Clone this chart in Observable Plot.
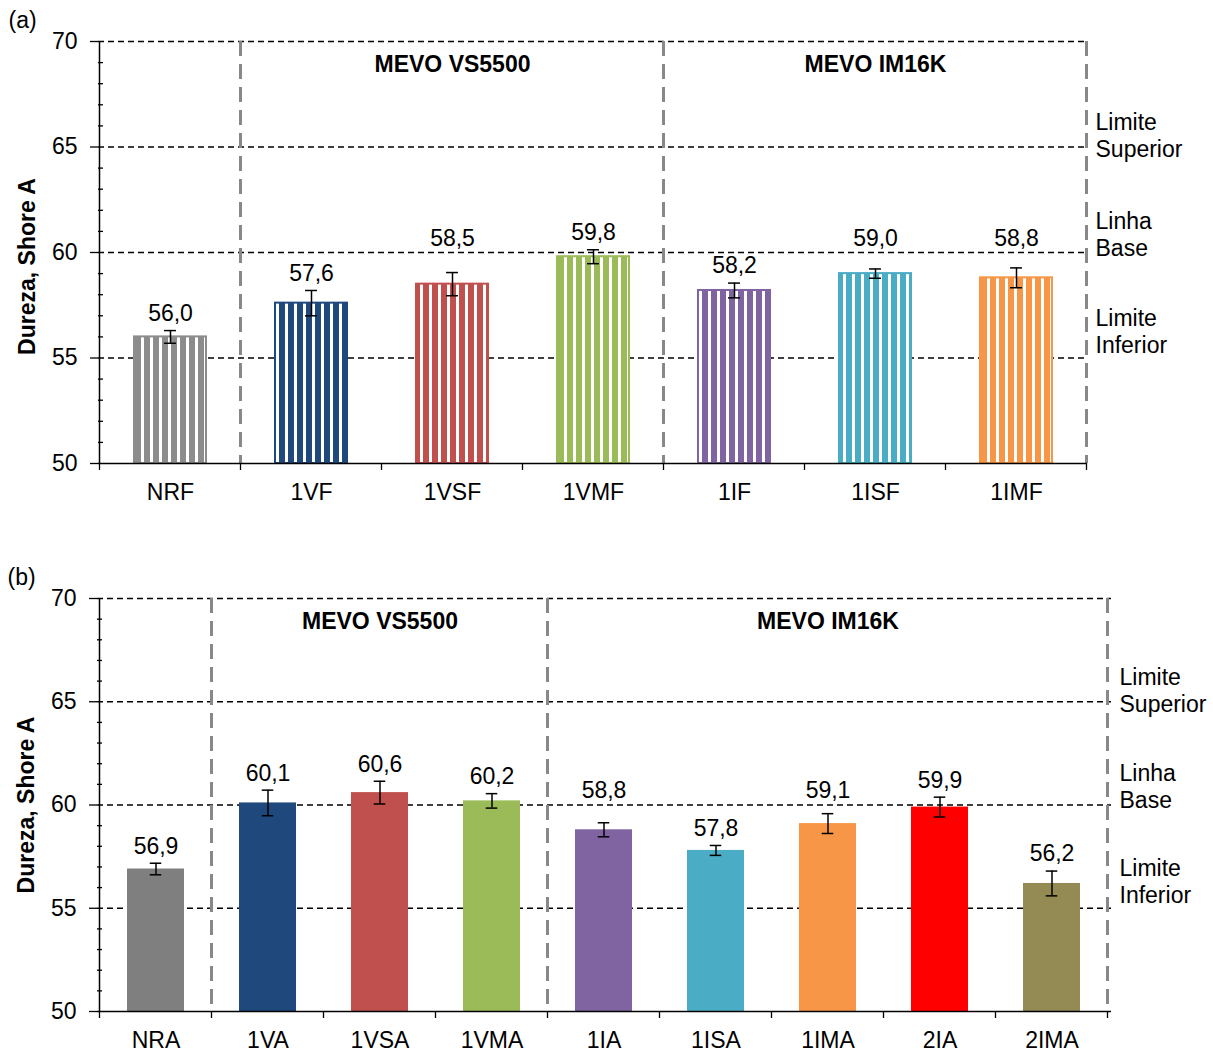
<!DOCTYPE html>
<html>
<head>
<meta charset="utf-8">
<script src="https://cdn.jsdelivr.net/npm/d3@7"></script>
<script src="https://cdn.jsdelivr.net/npm/@observablehq/plot@0.6"></script>
<style>
  html, body { margin: 0; padding: 0; background: #fff; overflow: hidden; }
  #wrap { position: relative; width: 1213px; height: 1052px; font-family: "Liberation Sans", Arial, sans-serif; }
  #wrap svg { position: absolute; left: 0; }
</style>
</head>
<body>
<div id="wrap"></div>
<script>
// Panel (a): hardness of the fibre-based compounds
const catsA = ["NRF", "1VF", "1VSF", "1VMF", "1IF", "1ISF", "1IMF"];
const valuesA = [56.0, 57.6, 58.5, 59.8, 58.2, 59.0, 58.8];
const errorsA = [0.3, 0.6, 0.55, 0.33, 0.35, 0.22, 0.47];
const colorsA = ["#8c8c8c", "#1f497d", "#c0504d", "#9bbb59", "#8064a2", "#4bacc6", "#f79646"];
const groupsA = [
  {name: "MEVO VS5500", members: ["1VF", "1VSF", "1VMF"]},
  {name: "MEVO IM16K", members: ["1IF", "1ISF", "1IMF"]}
];

// Panel (b): hardness of the compounds with additive
const catsB = ["NRA", "1VA", "1VSA", "1VMA", "1IA", "1ISA", "1IMA", "2IA", "2IMA"];
const valuesB = [56.9, 60.1, 60.6, 60.2, 58.8, 57.8, 59.1, 59.9, 56.2];
const errorsB = [0.28, 0.62, 0.55, 0.35, 0.34, 0.24, 0.48, 0.48, 0.6];
const colorsB = ["#7f7f7f", "#1f497d", "#c0504d", "#9bbb59", "#8064a2", "#4bacc6", "#f79646", "#ff0000", "#948a54"];
const groupsB = [
  {name: "MEVO VS5500", members: ["1VA", "1VSA", "1VMA"]},
  {name: "MEVO IM16K", members: ["1IA", "1ISA", "1IMA", "2IA", "2IMA"]}
];

// Shared axis values and reference limits
const yDomain = [50, 70];
const yTicks = [50, 55, 60, 65, 70];
const yMinor = [51, 52, 53, 54, 56, 57, 58, 59, 61, 62, 63, 64, 66, 67, 68, 69];
const refLines = [55, 60, 65, 70];
const limits = [
  {label: "Limite\nSuperior", value: 65},
  {label: "Linha\nBase", value: 60},
  {label: "Limite\nInferior", value: 55}
];
const yLabel = "Dureza, Shore A";

// Layout and style constants
const WIDTH = 1213;
const PAD = 0.49;
const CAP = 12;
const FS = 23;
const FONT = "Liberation Sans, Arial, sans-serif";
const LIMIT_DY = [-12, -19, -27];   // vertical nudge of each limit caption above its line
const LABEL_REACH = 1.3;            // y-extent (in scale units) a value label occupies above its error bar

const fmt = v => v.toFixed(1).replace(".", ",");

// Vertical-stripe fills, one pattern per bar colour
function stripeDefs(id, colors) {
  return () => {
    const defs = d3.create("svg:defs");
    colors.forEach((c, i) => {
      const p = defs.append("pattern")
        .attr("id", `${id}-${i}`)
        .attr("patternUnits", "userSpaceOnUse")
        .attr("width", 9).attr("height", 9);
      p.append("rect").attr("width", 9).attr("height", 9).attr("fill", "#fff");
      p.append("rect").attr("width", 6).attr("height", 9).attr("fill", c);
    });
    return defs.node();
  };
}

// Category boundary ticks, the y-axis line and the grey group separators
function edgeMark(cats, groups) {
  return (index, scales, values, dimensions) => {
    const {x, y} = scales;
    let edges;
    if (typeof x.bandwidth === "function") {
      const bw = x.bandwidth(), st = x.step();
      const half = (st - bw) / 2;
      edges = cats.map(c => x(c) - half);
      edges.push(x(cats[cats.length - 1]) + bw + half);
    } else {
      const {width, marginLeft, marginRight} = dimensions;
      const st = (width - marginLeft - marginRight) / cats.length;
      edges = d3.range(cats.length + 1).map(i => marginLeft + i * st);
    }
    const last = edges[edges.length - 1];
    const yb = y(yDomain[0]), yt = y(yDomain[1]);
    const g = d3.create("svg:g");
    const seps = groups.map(gr => edges[cats.indexOf(gr.members[0])]).concat([last]);
    g.append("g").selectAll("line").data(seps).join("line")
      .attr("x1", d => d).attr("x2", d => d)
      .attr("y1", yt).attr("y2", yb)
      .attr("stroke", "#888888").attr("stroke-width", 3)
      .attr("stroke-dasharray", "15,8");
    g.append("g").selectAll("line").data(edges).join("line")
      .attr("x1", d => d).attr("x2", d => d)
      .attr("y1", yb).attr("y2", yb + 7)
      .attr("stroke", "#000").attr("stroke-width", 1.3);
    g.append("line")
      .attr("x1", edges[0]).attr("x2", edges[0])
      .attr("y1", yt).attr("y2", yb)
      .attr("stroke", "#000").attr("stroke-width", 1.5);
    return g.node();
  };
}

// A value label that would sit across a reference line is lifted just above that line
function crossedLine(d) {
  const top = d.value + d.error;
  return refLines.find(r => r >= top && r <= top + LABEL_REACH);
}

function panel(cfg) {
  const {cats, values, errors, colors, groups, tag, striped, id, yLabelDy,
         marginLeft, marginRight, marginTop, marginBottom, height} = cfg;
  const data = cats.map((cat, i) => ({cat, value: values[i], error: errors[i], color: colors[i], index: i}));
  const freeLabels = data.filter(d => crossedLine(d) === undefined);
  const liftedLabels = data.filter(d => crossedLine(d) !== undefined);
  const plotW = WIDTH - marginLeft - marginRight;
  const step = plotW / cats.length;
  const bandwidth = step * (1 - PAD);
  const capInset = (bandwidth - CAP) / 2;

  const marks = [];
  if (striped) marks.push(stripeDefs(id, colors));
  marks.push(
    Plot.ruleY(refLines, {y: d => d, stroke: "#000", strokeWidth: 1.3, strokeDasharray: "6,4"}),
    edgeMark(cats, groups),
    Plot.barY(data, {
      x: "cat", y1: yDomain[0], y2: "value",
      fill: striped ? d => `url(#${id}-${d.index})` : "color",
      stroke: striped ? "color" : null,
      strokeWidth: striped ? 2 : 0
    }),
    Plot.ruleX(data, {x: "cat", y1: d => d.value - d.error, y2: d => d.value + d.error, stroke: "#000", strokeWidth: 1.5}),
    Plot.tickY(data, {x: "cat", y: d => d.value + d.error, insetLeft: capInset, insetRight: capInset, stroke: "#000", strokeWidth: 1.5}),
    Plot.tickY(data, {x: "cat", y: d => d.value - d.error, insetLeft: capInset, insetRight: capInset, stroke: "#000", strokeWidth: 1.5}),
    Plot.text(freeLabels, {x: "cat", y: d => d.value + d.error, dy: -17, text: d => fmt(d.value), fontSize: FS, fill: "#000"}),
    Plot.text(liftedLabels, {x: "cat", y: crossedLine, dy: -14, text: d => fmt(d.value), fontSize: FS, fill: "#000"}),
    Plot.ruleY([yDomain[0]], {y: d => d, stroke: "#000", strokeWidth: 1.3}),
    Plot.tickY(yMinor, {y: d => d, insetRight: plotW - 5, stroke: "#000", strokeWidth: 1.3}),
    Plot.axisY({ticks: yTicks, tickSize: 8, tickPadding: 13, fontSize: FS, label: null, strokeWidth: 1.3, tickFormat: d => String(d)}),
    Plot.axisX({tickSize: 0, tickPadding: 20, fontSize: FS, label: null}),
    Plot.text(groups, {x: g => g.members[Math.floor(g.members.length / 2)], frameAnchor: "top", dy: 23, lineAnchor: "middle", text: "name", fontSize: FS, fontWeight: "bold", fill: "#000"}),
    ...limits.map((l, i) => Plot.text([l], {y: "value", frameAnchor: "right", dx: 8, dy: LIMIT_DY[i], textAnchor: "start", lineAnchor: "middle", lineHeight: 1.17, text: "label", fontSize: FS, fill: "#000"})),
    Plot.text([yLabel], {frameAnchor: "left", dx: -71, dy: yLabelDy, rotate: -90, textAnchor: "middle", lineAnchor: "middle", text: d => d, fontSize: FS, fontWeight: "bold", fill: "#000"}),
    Plot.text([tag], {frameAnchor: "top-left", dx: -90, dy: -21, textAnchor: "start", lineAnchor: "middle", text: d => d, fontSize: FS, fill: "#000"})
  );

  return Plot.plot({
    width: WIDTH,
    height,
    marginLeft, marginRight, marginTop, marginBottom,
    style: {fontFamily: FONT, fontSize: `${FS}px`, color: "#000", background: "#fff"},
    x: {domain: cats, paddingInner: PAD, paddingOuter: PAD / 2, align: 0.5},
    y: {domain: yDomain},
    color: {type: "identity"},
    marks
  });
}

const wrap = document.getElementById("wrap");

const svgA = panel({
  cats: catsA, values: valuesA, errors: errorsA, colors: colorsA, groups: groupsA,
  tag: "(a)", striped: true, id: "stripeA", yLabelDy: 14,
  marginLeft: 98, marginRight: 126, marginTop: 41, marginBottom: 57, height: 520
});
svgA.style.top = "0px";
wrap.appendChild(svgA);

const svgB = panel({
  cats: catsB, values: valuesB, errors: errorsB, colors: colorsB, groups: groupsB,
  tag: "(b)", striped: false, id: "fillB", yLabelDy: 0,
  marginLeft: 97, marginRight: 102, marginTop: 78, marginBottom: 41, height: 532
});
svgB.style.top = "520px";
wrap.appendChild(svgB);
</script>
</body>
</html>
